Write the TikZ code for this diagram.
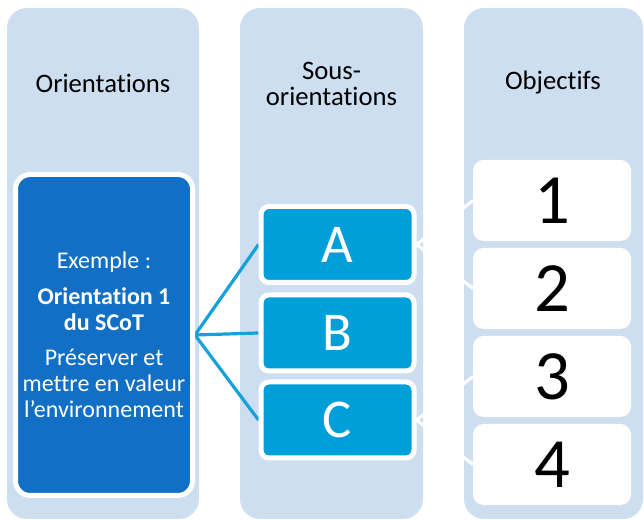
\documentclass[tikz,border=0pt]{standalone}
\usepackage{fontspec}
\setmainfont{Carlito}[Ligatures={NoCommon,NoContextual}]
\usetikzlibrary{positioning}
\pgfdeclarelayer{back}
\pgfdeclarelayer{mid}
\pgfsetlayers{back,mid,main}
\definecolor{colbg}{HTML}{CCDEEF}
\definecolor{orientbleu}{HTML}{116FC6}
\definecolor{sousbleu}{HTML}{019FDA}
\definecolor{lienbleu}{HTML}{15A1D9}
\begin{document}
\begin{tikzpicture}[x=0.75pt,y=-0.75pt,
  colonne/.style={rectangle,rounded corners=15pt,fill=colbg,minimum height=383.25pt,inner sep=0pt},
  titre/.style={font=\fontsize{20}{20}\selectfont,text=black,align=center},
  boite/.style={rectangle,rounded corners=6pt,draw=white,line width=3.75pt,minimum width=114.75pt,minimum height=57pt,inner sep=0pt},
  sous/.style={boite,fill=sousbleu,text=white,font=\fontsize{41}{41}\selectfont},
  objectif/.style={boite,fill=white,text=black,font=\fontsize{53}{53}\selectfont},
  lien/.style={line width=2.4pt}]
\useasboundingbox (0,0) rectangle (644,520);

% les trois colonnes
\begin{pgfonlayer}{back}
\node[colonne,minimum width=144pt] (col1) at (103,263.5) {};
\node[colonne,minimum width=137.25pt] (col2) at (331.5,263.5) {};
\node[colonne,minimum width=134.25pt] (col3) at (553.5,263.5) {};
\end{pgfonlayer}

\node[titre] (h1) at (103,83) {Orientations};
\node[titre] (h2) at (331.5,84) {Sous-\\orientations};
\node[titre] (h3) at (553,83) {Objectifs};

% orientation
\node[rectangle,rounded corners=11pt,draw=white,line width=3.75pt,fill=orientbleu,
  minimum width=132.75pt,minimum height=240.75pt,text=white,align=center,
  font=\fontsize{18}{19.5}\selectfont] (orient) at (104,335)
  {Exemple :\\[7pt]\textbf{Orientation 1}\\\textbf{du SCoT}\\[7pt]Préserver et\\mettre en valeur\\l’environnement};

% sous-orientations
\node[sous] (sousA) at (337.5,244.5) {A};
\node[sous] (sousB) at (337.5,333) {B};
\node[sous] (sousC) at (337.5,420) {C};

% objectifs
\node[objectif] (obj1) at (552,200.5) {1};
\node[objectif] (obj2) at (552,288.5) {2};
\node[objectif] (obj3) at (552,376.5) {3};
\node[objectif] (obj4) at (552,464.5) {4};

\begin{pgfonlayer}{mid}
\draw[lien,lienbleu] (orient.east) -- (sousA.west);
\draw[lien,lienbleu] (orient.east) -- (sousB.west);
\draw[lien,lienbleu] (orient.east) -- (sousC.west);

\draw[lien,white] (sousA.east) -- (obj1.west);
\draw[lien,white] (sousA.east) -- (obj2.west);
\draw[lien,white] (sousC.east) -- (obj3.west);
\draw[lien,white] (sousC.east) -- (obj4.west);
\end{pgfonlayer}
\end{tikzpicture}
\end{document}
